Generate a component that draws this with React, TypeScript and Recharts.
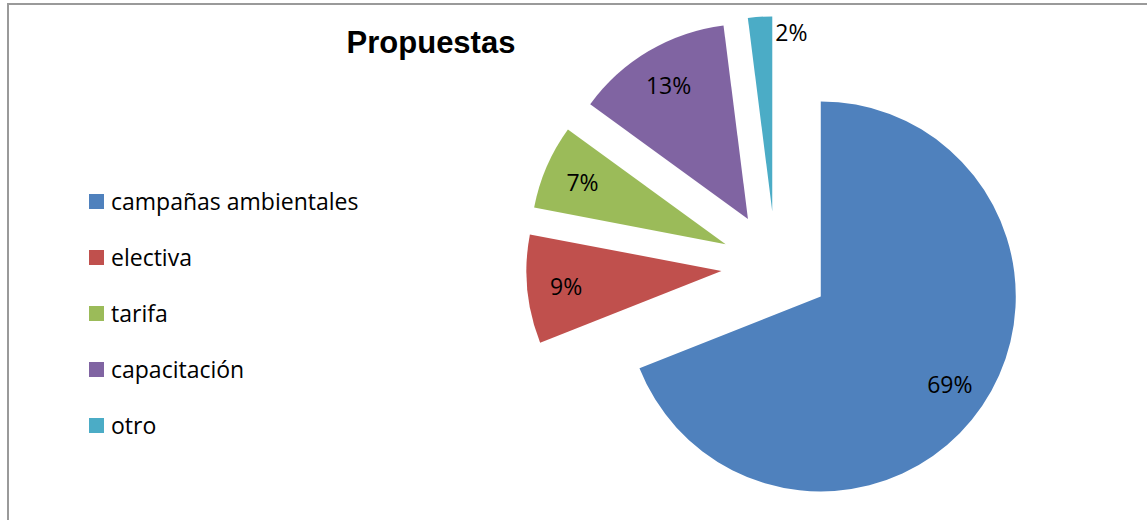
import { PieChart, Pie, Cell, Legend, Sector } from 'recharts'

const categories = ['campañas ambientales', 'electiva', 'tarifa', 'capacitación', 'otro']
const shares = [69, 9, 7, 13, 2]
const colors = ['#4F81BD', '#C0504D', '#9BBB59', '#8064A2', '#4BACC6']

const data = categories.map((name, i) => ({ name, value: shares[i] }))

const RAD = Math.PI / 180
const EXPLODE = 54.5
const FONT = '"Open Sans", sans-serif'

const unit = (angle: number) => [Math.cos(-angle * RAD), Math.sin(-angle * RAD)]

function ExplodedSector(props: any) {
  const [ux, uy] = unit(props.midAngle)
  return <Sector {...props} cx={props.cx + EXPLODE * ux} cy={props.cy + EXPLODE * uy} />
}

function renderLabel(props: any) {
  const { cx, cy, midAngle, endAngle, outerRadius, percent } = props
  const [ux, uy] = unit(midAngle)
  const ax = cx + EXPLODE * ux
  const ay = cy + EXPLODE * uy
  const text = `${Math.round(percent * 100)}%`
  if (percent < 0.03) {
    // tiny slice: label sits just outside, right of the outer edge
    const [ex, ey] = unit(endAngle)
    return (
      <text x={ax + outerRadius * ex + 3} y={ay + outerRadius * ey + 16} textAnchor="start"
        dominantBaseline="central" fill="#000" fontSize={23} fontFamily={FONT}>
        {text}
      </text>
    )
  }
  const r = outerRadius * 0.8
  return (
    <text x={ax + r * ux} y={ay + r * uy} textAnchor="middle" dominantBaseline="central"
      fill="#000" fontSize={23} fontFamily={FONT}>
      {text}
    </text>
  )
}

function LegendList() {
  return (
    <div style={{ fontFamily: FONT, fontSize: 23, color: '#000' }}>
      {categories.map((name, i) => (
        <div key={name} style={{ height: 56, display: 'flex', alignItems: 'center' }}>
          <span style={{ width: 15, height: 15, background: colors[i], marginRight: 7, display: 'inline-block' }} />
          <span>{name}</span>
        </div>
      ))}
    </div>
  )
}

export default function App() {
  return (
    <div style={{ position: 'absolute', left: 0, top: 0, width: 1147, height: 520, overflow: 'hidden', background: '#fff' }}>
      <div style={{ position: 'absolute', left: 7, top: 3, width: 1300, height: 700, border: '2px solid #9a9a9a' }} />
      <div style={{
        position: 'absolute', left: 331, top: 23, width: 200, textAlign: 'center',
        fontFamily: '"Liberation Sans", Arial, sans-serif', fontWeight: 'bold', fontSize: 31, lineHeight: '40px',
      }}>
        Propuestas
      </div>
      <PieChart width={1147} height={520} margin={{ top: 0, right: 0, bottom: 0, left: 0 }}
        style={{ position: 'absolute', left: 0, top: 0 }}>
        <Pie data={data} dataKey="value" nameKey="name" cx={775.7} cy={265.8} outerRadius={195}
          startAngle={90} endAngle={-270} stroke="none" isAnimationActive={false}
          shape={ExplodedSector} label={renderLabel} labelLine={false}>
          {data.map((d, i) => (
            <Cell key={d.name} fill={colors[i]} />
          ))}
        </Pie>
        <Legend layout="vertical" align="center" verticalAlign="middle" content={<LegendList />}
          wrapperStyle={{ left: 89, top: 173, width: 320 }} />
      </PieChart>
    </div>
  )
}
